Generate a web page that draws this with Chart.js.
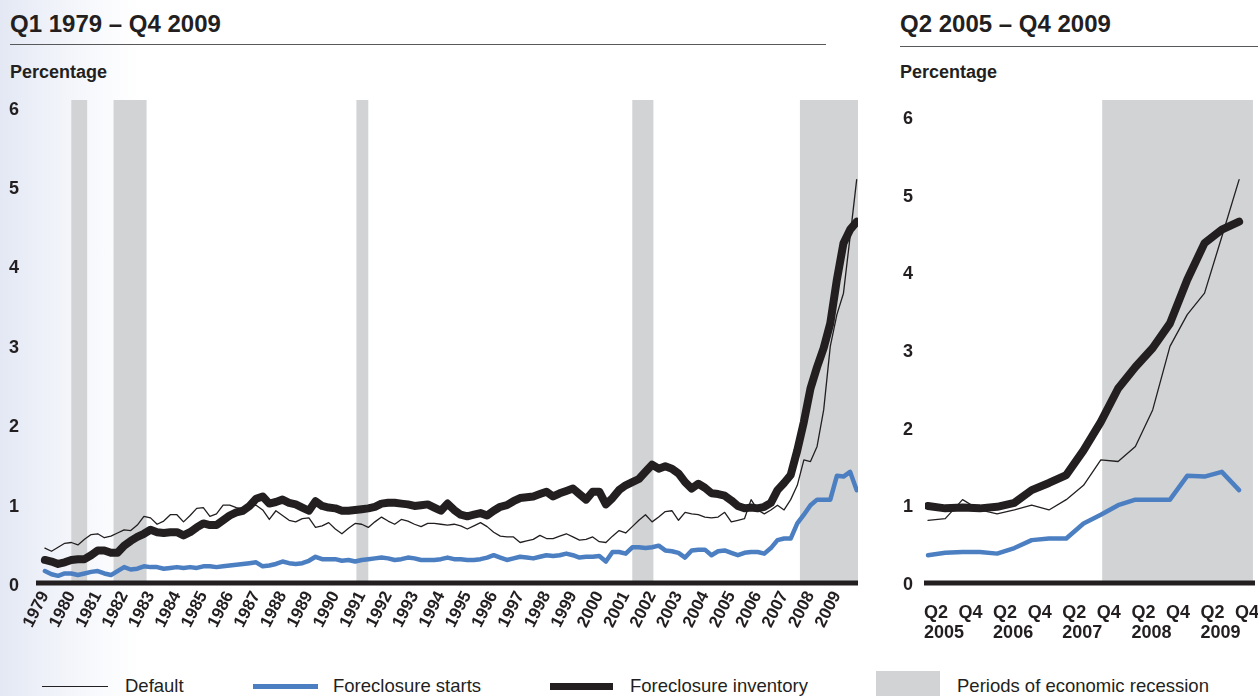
<!DOCTYPE html>
<html><head><meta charset="utf-8">
<script src="https://cdn.jsdelivr.net/npm/chart.js@4.4.1/dist/chart.umd.min.js"></script>
<style>
html,body{margin:0;padding:0;}
body{width:1258px;height:696px;position:relative;overflow:hidden;background:linear-gradient(to right,#e3e8f4 0px,#edf0f8 40px,#f9fafd 100px,#ffffff 140px);font-family:"Liberation Sans",Arial,Helvetica,sans-serif;color:#231f20;}
.title{position:absolute;top:12px;font-weight:bold;font-size:24px;line-height:24px;white-space:nowrap;}
.rule{position:absolute;height:0;border-top:1.5px solid #58595b;}
.unit{position:absolute;top:63px;font-weight:bold;font-size:18px;line-height:18px;white-space:nowrap;}
canvas{position:absolute;top:0;}
.leg{position:absolute;font-size:18.5px;line-height:20px;top:676px;white-space:nowrap;}
.sw{position:absolute;}
</style></head>
<body>
<div class="title" style="left:10px">Q1 1979 – Q4 2009</div>
<div class="rule" style="left:10px;width:816px;top:44px"></div>
<div class="unit" style="left:10px">Percentage</div>
<div class="title" style="left:900px">Q2 2005 – Q4 2009</div>
<div class="rule" style="left:900px;width:358px;top:46px"></div>
<div class="unit" style="left:900px">Percentage</div>
<canvas id="leftChart" width="870" height="660" style="left:0"></canvas>
<canvas id="rightChart" width="378" height="660" style="left:880px"></canvas>

<div class="sw" style="left:42px;top:685.5px;width:66px;height:1.3px;background:#231f20"></div>
<div class="leg" style="left:125px">Default</div>
<div class="sw" style="left:253px;top:683.5px;width:65px;height:5px;background:#4b7fc2"></div>
<div class="leg" style="left:333px">Foreclosure starts</div>
<div class="sw" style="left:550px;top:682.5px;width:63px;height:7px;background:#231f20"></div>
<div class="leg" style="left:630px">Foreclosure inventory</div>
<div class="sw" style="left:876px;top:671px;width:64px;height:25px;background:#d1d3d4"></div>
<div class="leg" style="left:957px">Periods of economic recession</div>

<script>
// ---- Data (quarterly, Q1 1979 .. Q4 2009) ----
const startYear = 1979;
const defaultRate = [
 0.44,0.40,0.45,0.50,0.51,0.48,0.55,0.61,0.62,0.57,
 0.59,0.63,0.67,0.66,0.73,0.84,0.82,0.74,0.78,0.86,
 0.86,0.77,0.85,0.94,0.95,0.84,0.87,0.98,0.98,0.95,
 0.93,0.96,0.98,0.92,0.80,0.91,0.85,0.79,0.77,0.81,
 0.82,0.70,0.72,0.76,0.68,0.62,0.69,0.75,0.74,0.70,
 0.77,0.83,0.78,0.74,0.80,0.78,0.74,0.71,0.75,0.75,
 0.74,0.73,0.74,0.72,0.68,0.72,0.76,0.71,0.64,0.59,
 0.58,0.58,0.51,0.53,0.55,0.60,0.56,0.56,0.59,0.62,
 0.58,0.54,0.55,0.58,0.52,0.51,0.59,0.66,0.63,0.71,
 0.79,0.86,0.77,0.83,0.90,0.91,0.79,0.89,0.87,0.86,
 0.83,0.82,0.83,0.89,0.77,
 0.79,0.81,1.05,0.92,0.87,0.92,0.98,0.92,1.05,1.23,1.55,1.53,1.72,2.18,2.98,3.38,3.65,4.36,5.08
];
const foreclosureStarts = [
 0.15,0.11,0.09,0.12,0.12,0.10,0.12,0.14,0.15,0.12,
 0.10,0.15,0.20,0.17,0.18,0.21,0.20,0.20,0.18,0.19,
 0.20,0.19,0.20,0.19,0.21,0.21,0.20,0.21,0.22,0.23,
 0.24,0.25,0.26,0.21,0.22,0.24,0.27,0.25,0.24,0.25,
 0.28,0.33,0.30,0.30,0.30,0.28,0.29,0.27,0.29,0.30,
 0.31,0.32,0.31,0.29,0.30,0.32,0.31,0.29,0.29,0.29,
 0.30,0.32,0.30,0.30,0.29,0.29,0.30,0.32,0.35,0.32,
 0.29,0.31,0.33,0.32,0.31,0.33,0.35,0.34,0.35,0.37,
 0.35,0.32,0.33,0.33,0.34,0.27,0.39,0.39,0.37,0.45,
 0.45,0.44,0.45,0.47,0.41,0.40,0.38,0.32,0.41,0.42,
 0.42,0.35,0.40,0.41,0.38,
 0.35,0.38,0.39,0.39,0.37,0.44,0.54,0.56,0.56,0.75,0.86,0.98,1.05,1.05,1.05,1.35,1.34,1.40,1.17
];
const foreclosureInventory = [
 0.29,0.27,0.24,0.26,0.29,0.30,0.30,0.35,0.41,0.41,
 0.38,0.38,0.47,0.53,0.58,0.62,0.67,0.64,0.63,0.64,
 0.64,0.60,0.64,0.70,0.75,0.73,0.73,0.79,0.85,0.89,
 0.91,0.97,1.06,1.09,1.00,1.02,1.05,1.01,0.99,0.95,
 0.91,1.03,0.97,0.95,0.94,0.91,0.91,0.92,0.93,0.94,
 0.96,1.00,1.01,1.01,1.00,0.99,0.97,0.98,0.99,0.95,
 0.91,1.00,0.92,0.86,0.84,0.86,0.88,0.85,0.91,0.96,
 0.98,1.03,1.07,1.08,1.09,1.12,1.15,1.09,1.13,1.16,
 1.19,1.12,1.05,1.15,1.15,0.99,1.07,1.17,1.23,1.27,
 1.31,1.40,1.49,1.44,1.47,1.44,1.38,1.27,1.19,1.25,
 1.20,1.13,1.12,1.10,1.04,
 0.97,0.94,0.95,0.94,0.96,1.01,1.17,1.26,1.36,1.67,2.03,2.45,2.72,2.96,3.27,3.82,4.28,4.45,4.55
];
// Right panel starts at Q2 2005 (quarter index 105)
const rightStartIndex = 105;

const yearLabels = ['1979','1980','1981','1982','1983','1984','1985','1986','1987','1988','1989','1990','1991','1992','1993','1994','1995','1996','1997','1998','1999','2000','2001','2002','2003','2004','2005','2006','2007','2008','2009'];
const rightTickValues = [2005.25,2005.75,2006.25,2006.75,2007.25,2007.75,2008.25,2008.75,2009.25,2009.75];
const rightTickLabels = [['Q2','2005'],['Q4',''],['Q2','2006'],['Q4',''],['Q2','2007'],['Q4',''],['Q2','2008'],['Q4',''],['Q2','2009'],['Q4','']];
const yTickValues = [0,1,2,3,4,5,6];
const recessionsLeft = [[1980.0,1980.6],[1981.6,1982.85],[1990.8,1991.25],[2001.25,2002.05],[2007.6,2009.95]];
const recessionsRight = [[2007.77,2009.95]];

// ---- Rendering ----
const FONT = '"Liberation Sans", Arial, Helvetica, sans-serif';
const INK = '#231f20';

function pts(arr, from){ return arr.slice(from).map((v,i)=>({x: startYear + (from+i)/4, y: v})); }

function makeDatasets(from){
  return [
    {label:'Default', data:pts(defaultRate,from), borderColor:INK, borderWidth:1.3, order:0},
    {label:'Foreclosure starts', data:pts(foreclosureStarts,from), borderColor:'#4b7fc2', borderWidth:4.5, order:1},
    {label:'Foreclosure inventory', data:pts(foreclosureInventory,from), borderColor:INK, borderWidth:8, order:2}
  ].map(d=>Object.assign(d,{pointRadius:0,pointHoverRadius:0,tension:0,fill:false,borderJoinStyle:'round',borderCapStyle:'round',yAxisID:'y'}));
}

function bandPlugin(bands){
  return {
    id:'bands',
    beforeDatasetsDraw(chart){
      const {ctx, chartArea:a, scales} = chart;
      const y0 = scales.y.getPixelForValue(0);
      ctx.save(); ctx.fillStyle = '#d1d3d4';
      bands.forEach(([s,e])=>{
        const x1 = Math.max(scales.x.getPixelForValue(s), a.left);
        const x2 = Math.min(scales.x.getPixelForValue(e), a.right);
        if (x2 > x1) ctx.fillRect(x1, a.top, x2-x1, y0-a.top);
      });
      ctx.restore();
    },
    afterDatasetsDraw(chart){
      const {ctx, chartArea:a, scales} = chart;
      const y0 = scales.y.getPixelForValue(0);
      ctx.save(); ctx.strokeStyle = INK; ctx.lineWidth = 5;
      ctx.beginPath(); ctx.moveTo(a.left-1, y0); ctx.lineTo(a.right, y0); ctx.stroke();
      ctx.restore();
    }
  };
}

const common = {
  responsive:false, animation:false, devicePixelRatio:1,
  plugins:{legend:{display:false}, tooltip:{enabled:false}},
  events:[]
};

new Chart(document.getElementById('leftChart'), {
  type:'line',
  data:{datasets:makeDatasets(0)},
  options:Object.assign({}, common, {
    layout:{padding:{top:100,right:12,left:0,bottom:0}},
    scales:{
      x:{type:'linear', min:1978.70, max:2009.80,
        grid:{display:false, drawTicks:false}, border:{display:false},
        afterBuildTicks:s=>{ s.ticks = yearLabels.map(l=>({value:Number(l)})); },
        afterFit:s=>{ s.height = 77; s.paddingLeft = 0; s.paddingRight = 0; },
        ticks:{autoSkip:false, maxRotation:63, minRotation:63, padding:5, color:INK,
          font:{family:FONT, size:17, weight:'bold'}, callback:(v,i)=>yearLabels[i]}},
      y:{min:0, max:6.083,
        grid:{display:false, drawTicks:false}, border:{display:false},
        afterBuildTicks:s=>{ s.ticks = yTickValues.map(v=>({value:v})); },
        afterFit:s=>{ s.width = 37; s.paddingTop = 0; s.paddingBottom = 0; },
        ticks:{padding:18, labelOffset:3, color:INK, font:{family:FONT, size:18, weight:'bold'}, callback:v=>String(v)}}
    }
  }),
  plugins:[bandPlugin(recessionsLeft)]
});

new Chart(document.getElementById('rightChart'), {
  type:'line',
  data:{datasets:makeDatasets(rightStartIndex)},
  options:Object.assign({}, common, {
    layout:{padding:{top:100,right:3,left:0,bottom:0}},
    scales:{
      x:{type:'linear', min:2005.207, max:2009.98,
        grid:{display:false, drawTicks:false}, border:{display:false},
        afterBuildTicks:s=>{ s.ticks = rightTickValues.map(v=>({value:v})); },
        afterFit:s=>{ s.height = 77; s.paddingLeft = 0; s.paddingRight = 0; },
        ticks:{autoSkip:false, maxRotation:0, minRotation:0, align:'start', labelOffset:-4, padding:20, color:INK,
          font:{family:FONT, size:18, weight:'bold', lineHeight:1.1}, callback:(v,i)=>rightTickLabels[i]}},
      y:{display:false, min:0, max:6.083},
      yTicks:{position:'left', min:0, max:6.22,
        grid:{display:false, drawTicks:false}, border:{display:false},
        afterBuildTicks:s=>{ s.ticks = yTickValues.map(v=>({value:v})); },
        afterFit:s=>{ s.width = 45; s.paddingTop = 0; s.paddingBottom = 0; },
        ticks:{padding:12, labelOffset:2, color:INK, font:{family:FONT, size:18, weight:'bold'}, callback:v=>String(v)}}
    }
  }),
  plugins:[bandPlugin(recessionsRight)]
});
</script>
</body></html>
